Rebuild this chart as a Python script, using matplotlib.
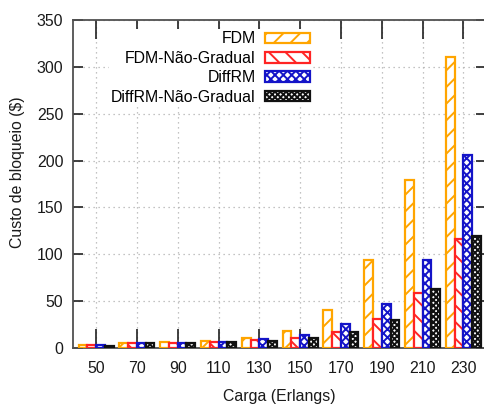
import matplotlib

matplotlib.use('Agg')

import matplotlib.pyplot as plt
import numpy as np

plt.rcParams['font.family'] = ['Liberation Sans', 'DejaVu Sans']
plt.rcParams['hatch.linewidth'] = 1.4

# carga em Erlangs e custo de bloqueio ($) de cada algoritmo
cargas = [50, 70, 90, 110, 130, 150, 170, 190, 210, 230]
fdm = [3, 5.5, 6.5, 7.5, 11, 18, 40.5, 94, 179, 310]
fdm_ng = [3, 5, 5.5, 6.5, 8.5, 10.5, 17, 30.5, 58.5, 116.5]
diffrm = [3, 5, 5.5, 6.5, 9.5, 14, 25.5, 47.5, 93.5, 206]
diffrm_ng = [2.5, 5, 5, 6.5, 8, 10.5, 17, 30, 62.5, 119.5]

series = [
    ('FDM', fdm, '#FFA500', '//'),
    ('FDM-Não-Gradual', fdm_ng, '#FF2424', '\\\\'),
    ('DiffRM', diffrm, '#1414C8', 'xxxx'),
    ('DiffRM-Não-Gradual', diffrm_ng, '#111111', 'xxxxxx'),
]

fs = 11.4

fig = plt.figure(figsize=(4.85, 4.05), dpi=100)
ax = fig.add_axes([0.1505, 0.1407, 0.8525, 0.8099])

x_pos = np.arange(len(cargas))
width = 0.215
for i, (nome, valores, cor, hatch) in enumerate(series):
    offs = (i - 1.5) * width
    ax.bar(x_pos + offs, valores, width, facecolor='white', edgecolor=cor,
           hatch=hatch, linewidth=1.6, label=nome, zorder=3)

ax.set_xlim(-0.565, 9.565)
ax.set_ylim(0, 350)
ax.set_yticks(range(0, 351, 50))
ax.set_xticks(x_pos)
ax.set_xticklabels([str(c) for c in cargas])

ax.grid(True, color='#b0b0b0', linestyle=(0, (1, 3)), linewidth=0.9, zorder=0)
ax.set_axisbelow(True)

for s in ax.spines.values():
    s.set_color('#505050')
    s.set_linewidth(1.3)

ax.tick_params(axis='x', direction='in', length=14, width=1.2, top=True,
               color='#202020', labelsize=fs, labelcolor='#1a1a1a', pad=9)
ax.tick_params(axis='y', direction='in', length=7, width=1.2, right=True,
               color='#202020', labelsize=fs, labelcolor='#1a1a1a', pad=7)

fig.text(18 / 485, 1 - 172 / 405, 'Custo de bloqueio ($)', rotation=90,
         ha='center', va='center', fontsize=fs, color='#1a1a1a')
fig.text(279 / 485, 1 - 396 / 405, 'Carga (Erlangs)', ha='center',
         va='center', fontsize=fs, color='#1a1a1a')

leg = ax.legend(loc='upper right', bbox_to_anchor=(312 / 485, 1 - 29 / 405),
                bbox_transform=fig.transFigure, markerfirst=False,
                fontsize=fs, handlelength=2.85, handleheight=0.65,
                handletextpad=0.55, labelspacing=0.28, borderpad=0.15,
                borderaxespad=0, frameon=True, fancybox=False)
leg.get_frame().set_edgecolor('none')
leg.get_frame().set_facecolor('white')
leg.get_frame().set_alpha(1)
leg.set_zorder(5)

plt.savefig('out.png', dpi=100)
